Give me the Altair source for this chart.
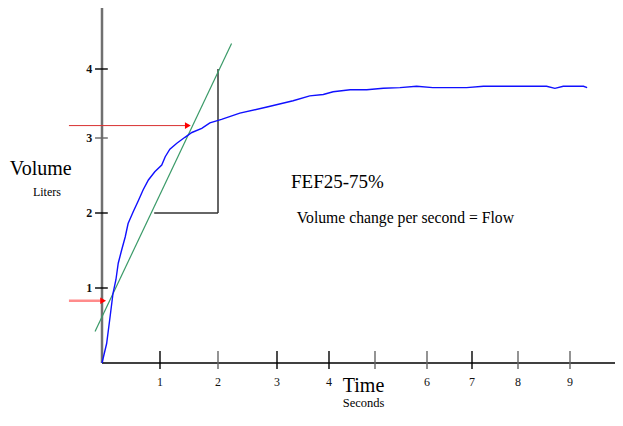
import altair as alt
import pandas as pd

# ---- data (seconds, liters) ----
curve_t = [0.00, 0.04, 0.08, 0.14, 0.19, 0.24, 0.28, 0.34, 0.40, 0.45, 0.54, 0.63,
           0.71, 0.80, 0.91, 1.03, 1.09, 1.17, 1.29, 1.43, 1.55, 1.72, 1.86, 2.06,
           2.37, 2.83, 3.31, 3.63, 3.89, 4.09, 4.46, 4.82, 5.16, 5.48, 5.80, 6.13,
           6.88, 7.25, 8.29, 8.55, 8.71, 8.87, 9.26, 9.33]
curve_v = [0.00, 0.13, 0.26, 0.62, 0.93, 1.11, 1.33, 1.51, 1.68, 1.86, 2.02, 2.17,
           2.31, 2.44, 2.55, 2.64, 2.75, 2.85, 2.93, 3.01, 3.08, 3.14, 3.22, 3.27,
           3.36, 3.45, 3.54, 3.61, 3.63, 3.67, 3.70, 3.70, 3.72, 3.73, 3.75, 3.73,
           3.73, 3.75, 3.75, 3.75, 3.72, 3.75, 3.75, 3.73]

x_tick_vals = [1, 2, 3, 4, 5, 6, 7, 8, 9]
x_tick_text = ["1", "2", "3", "4", "", "6", "7", "8", "9"]
x_tick_color = ["#000", "#666", "#000", "#000", "#666", "#666", "#000", "#666", "#666"]
y_tick_vals = [1, 2, 3, 4]
y_tick_text = ["1", "2", "3", "4"]
y_tick_color = ["#000", "#000", "#666", "#000"]

# tangent (green) line endpoints
tangent_t = [-0.12, 2.23]
tangent_v = [0.42, 4.37]

# rise / run triangle corners
tri_t = [0.90, 2.00, 2.00]
tri_v = [2.00, 2.00, 4.00]

# arrows (start time, end time, volume)
arrow_t0 = [-0.57, -0.57]
arrow_t1 = [1.48, 0.02]
arrow_v = [3.18, 0.83]

# annotation texts
ann_text = ["Volume", "Liters", "FEF25-75%", "Volume change per second = Flow", "Time", "Seconds"]
ann_t = [-1.59, -0.95, 3.27, 3.38, 4.30, 4.30]
ann_v = [2.51, 2.23, 2.33, 1.87, -0.39, -0.585]

# ---- scales (hand-drawn, unevenly spaced axes) ----
xs = alt.Scale(domain=[0, 1, 2, 3, 4, 5, 6, 7, 8, 9, 10],
               range=[0, 58, 116, 175, 227, 273, 325, 370, 416, 468, 520],
               nice=False, zero=False)
ys = alt.Scale(domain=[0, 1, 2, 3, 4, 5],
               range=[355, 280, 205, 130, 61, -8],
               nice=False, zero=False)

FONT = "Liberation Serif"


def X(f):
    return alt.X(f, type="quantitative", scale=xs, axis=None)


def Y(f):
    return alt.Y(f, type="quantitative", scale=ys, axis=None)


# axes lines
yaxis = alt.Chart(pd.DataFrame({"x": [0], "y": [0], "y2": [5]})).mark_rule(
    color="#707070", strokeWidth=2.5).encode(x=X("x"), y=Y("y"), y2="y2")
xaxis = alt.Chart(pd.DataFrame({"x": [0], "x2": [10], "y": [0]})).mark_rule(
    color="#000", strokeWidth=1.3).encode(x=X("x"), x2="x2", y=Y("y"))

xt = pd.DataFrame({"x": x_tick_vals, "lab": x_tick_text, "c": x_tick_color})
xt["y"] = -0.08
xt["y2"] = 0.16
xt["ly"] = -0.25
xticks = alt.Chart(xt).mark_rule(strokeWidth=1.4).encode(
    x=X("x"), y=Y("y"), y2="y2", color=alt.Color("c:N", scale=None))
xlabels = alt.Chart(xt).mark_text(font=FONT, fontSize=12, baseline="middle",
                                  align="center", color="#111").encode(
    x=X("x"), y=Y("ly"), text="lab:N")

yt = pd.DataFrame({"y": y_tick_vals, "lab": y_tick_text, "c": y_tick_color})
yt["x"] = -0.12
yt["x2"] = 0.10
yt["lx"] = -0.17
yticks = alt.Chart(yt).mark_rule(strokeWidth=1.4).encode(
    y=Y("y"), x=X("x"), x2="x2", color=alt.Color("c:N", scale=None))
ylabels = alt.Chart(yt).mark_text(font=FONT, fontSize=12, fontWeight="bold",
                                  baseline="middle", align="right", color="#111").encode(
    x=X("lx"), y=Y("y"), text="lab:N")

# triangle
tri = pd.DataFrame({"x": [tri_t[0], tri_t[1]], "x2": [tri_t[1], tri_t[2]],
                    "y": [tri_v[0], tri_v[1]], "y2": [tri_v[1], tri_v[2]]})
triangle = alt.Chart(tri).mark_rule(color="#333", strokeWidth=1.5).encode(
    x=X("x"), x2="x2", y=Y("y"), y2="y2")

# tangent
tg = pd.DataFrame({"x": [tangent_t[0]], "x2": [tangent_t[1]],
                   "y": [tangent_v[0]], "y2": [tangent_v[1]]})
tangent = alt.Chart(tg).mark_rule(color="#3a9a68", strokeWidth=1.2).encode(
    x=X("x"), x2="x2", y=Y("y"), y2="y2")

# curve
cv = pd.DataFrame({"t": curve_t, "v": curve_v})
curve = alt.Chart(cv).mark_line(color="#1010ff", strokeWidth=1.4).encode(
    x=X("t"), y=Y("v"), order="t:Q")

# arrows
ar = pd.DataFrame({"x": arrow_t0, "x2": arrow_t1, "y": arrow_v,
                   "c": ["#d83030", "#ff8c8c"], "w": [1.0, 2.5]})
arrow_lines = alt.Chart(ar).mark_rule().encode(
    x=X("x"), x2="x2", y=Y("y"), color=alt.Color("c:N", scale=None),
    strokeWidth=alt.StrokeWidth("w:Q", scale=None))
arrow_heads = alt.Chart(ar).mark_point(shape="triangle-right", filled=True,
                                       color="#ff0000", size=45, opacity=1).encode(
    x=X("x2"), y=Y("y"))

# annotation texts
sizes = [20, 12, 19, 15.7, 20, 12.5]
aligns = ["left", "center", "left", "left", "left", "left"]
texts = []
for i in range(len(ann_text)):
    d = pd.DataFrame({"t": [ann_t[i]], "v": [ann_v[i]], "s": [ann_text[i]]})
    texts.append(alt.Chart(d).mark_text(font=FONT, fontSize=sizes[i], align=aligns[i],
                                        baseline="alphabetic", color="#000").encode(
        x=X("t"), y=Y("v"), text="s:N"))

chart = alt.layer(yaxis, xaxis, xticks, yticks, triangle, tangent, curve,
                  arrow_lines, arrow_heads, xlabels, ylabels, *texts).properties(
    width=513, height=404, autosize=alt.AutoSizeParams(type="none"),
    padding={"left": 94, "top": 0, "right": 0, "bottom": 0},
    background="white",
).configure_view(stroke=None)

chart.save("out.html", embed_options={"renderer": "svg", "actions": False})
